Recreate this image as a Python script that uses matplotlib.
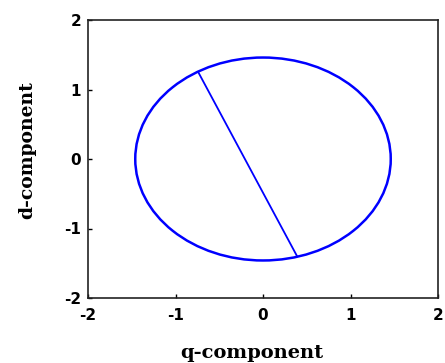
import matplotlib
matplotlib.use("Agg")
import matplotlib.pyplot as plt
from matplotlib.patches import Ellipse

# Space-vector locus in the d-q plane
center_q = 0.0
center_d = 0.0
radius = 1.46

# Instantaneous vector segment (q, d)
seg_q = [-0.74, 0.39]
seg_d = [1.25, -1.40]

ticks = [-2, -1, 0, 1, 2]

fig = plt.figure(figsize=(4.45, 3.63), dpi=100)
ax = fig.add_axes([88 / 445, 1 - 298 / 363, 350 / 445, 278 / 363])

locus = Ellipse((center_q, center_d), 2 * radius, 2 * radius,
                fill=False, edgecolor="#0000ff", linewidth=1.8)
ax.add_patch(locus)
ax.plot(seg_q, seg_d, color="#0000ff", linewidth=1.3)

ax.set_xlim(-2, 2)
ax.set_ylim(-2, 2)
ax.set_xticks(ticks)
ax.set_yticks(ticks)
tick_font = dict(fontfamily="DejaVu Sans", fontweight="bold", fontsize=11)
ax.set_xticklabels([str(t) for t in ticks], **tick_font)
ax.set_yticklabels([str(t) for t in ticks], **tick_font)
ax.tick_params(direction="in", length=3, width=1)
ax.tick_params(axis="x", pad=7)
ax.tick_params(axis="y", pad=5)
for s in ax.spines.values():
    s.set_linewidth(1.2)
    s.set_color("#222222")

ax.set_xlabel("q-component", fontfamily="DejaVu Serif", fontweight="bold",
              fontsize=14, labelpad=15)
ax.set_ylabel("d-component", fontfamily="DejaVu Serif", fontweight="bold",
              fontsize=13.5, labelpad=20)
ax.xaxis.label.set_x(0.467)
ax.yaxis.label.set_y(0.532)

fig.savefig("out.png", dpi=100)
